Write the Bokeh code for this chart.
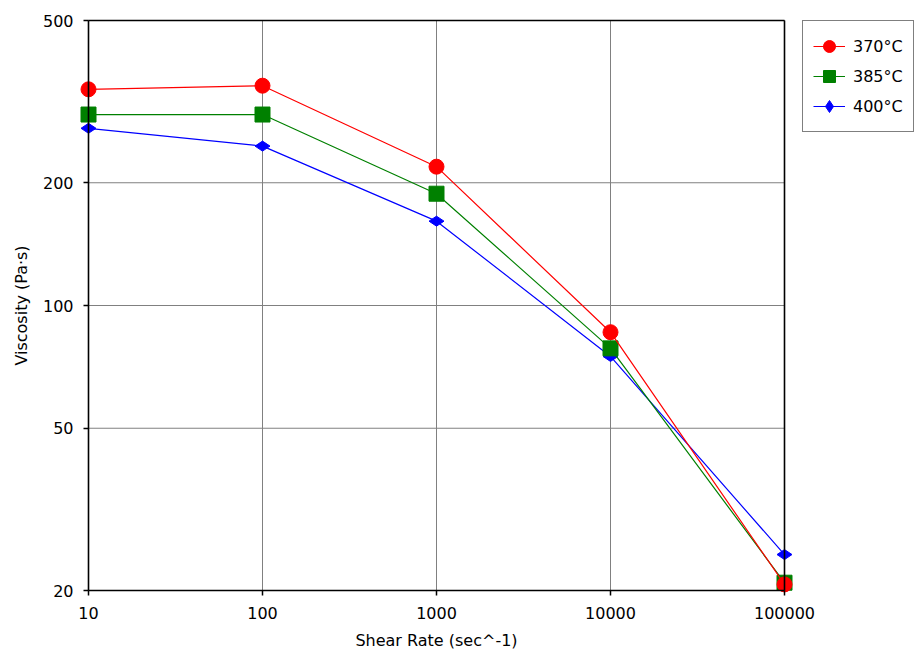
import math
from bokeh.plotting import figure
from bokeh.models import Range1d, FixedTicker, PrintfTickFormatter, Legend, LegendItem
from bokeh.embed import file_html
from bokeh.resources import INLINE

shear_rate = [10, 100, 1000, 10000, 100000]
visc_370 = [339, 346, 219, 86, 20.7]
visc_385 = [294, 294, 188, 78.5, 20.9]
visc_400 = [272, 246, 161, 75, 24.5]
series_labels = ["370°C", "385°C", "400°C"]
x_ticks = [10, 100, 1000, 10000, 100000]
y_ticks = [20, 50, 100, 200, 500]

FONT = "DejaVu Sans"
FS = "16px"

# plot box (data area) in px and padding so edge markers are not clipped
BOX_W, BOX_H, PAD = 696, 570, 9
x_lo, x_hi = x_ticks[0], x_ticks[-1]
y_lo, y_hi = y_ticks[0], y_ticks[-1]
xdec = PAD * math.log10(x_hi / x_lo) / BOX_W
ydec = PAD * math.log10(y_hi / y_lo) / BOX_H

p = figure(
    x_axis_type="log", y_axis_type="log",
    x_range=Range1d(x_lo / 10**xdec, x_hi * 10**xdec),
    y_range=Range1d(y_lo / 10**ydec, y_hi * 10**ydec),
    frame_width=BOX_W + 2 * PAD, frame_height=BOX_H + 2 * PAD,
    min_border_left=79, min_border_top=11, min_border_right=120, min_border_bottom=60,
    output_backend="svg", toolbar_location=None,
    background_fill_color="white", border_fill_color="white",
)
p.outline_line_color = None
p.xgrid.visible = False
p.ygrid.visible = False

for ax, ticks in ((p.xaxis, x_ticks), (p.yaxis, y_ticks)):
    ax.ticker = FixedTicker(ticks=ticks, minor_ticks=[])
    ax.formatter = PrintfTickFormatter(format="%d")
    ax.axis_line_color = None
    ax.major_tick_line_color = "black"
    ax.major_tick_line_width = 1.5
    ax.major_tick_in = PAD
    ax.major_tick_out = 5 - PAD
    ax.minor_tick_line_color = None
    ax.major_label_text_font = FONT
    ax.major_label_text_font_size = FS
    ax.major_label_text_color = "black"
    ax.axis_label_text_font = FONT
    ax.axis_label_text_font_size = FS
    ax.axis_label_text_font_style = "normal"
    ax.axis_label_text_color = "black"

p.xaxis.axis_label = "Shear Rate (sec^-1)"
p.yaxis.axis_label = "Viscosity (Pa·s)"
p.xaxis.major_label_standoff = 7
p.xaxis.axis_label_standoff = 9
p.yaxis.major_label_standoff = 6
p.yaxis.axis_label_standoff = 9

# grid lines inside the plot box, from the tick lists
p.segment(x0=x_ticks, y0=[y_lo] * len(x_ticks), x1=x_ticks, y1=[y_hi] * len(x_ticks),
          line_color="#808080", line_width=1)
p.segment(x0=[x_lo] * len(y_ticks), y0=y_ticks, x1=[x_hi] * len(y_ticks), y1=y_ticks,
          line_color="#808080", line_width=1)

series = [
    (visc_370, "#ff0000", "circle", 15, 0, series_labels[0]),
    (visc_385, "#008000", "square", 15, 0, series_labels[1]),
    (visc_400, "#0000ff", "diamond", 15, math.pi / 2, series_labels[2]),
]
items = {}
# draw last series first so that the 370 °C series lies on top, as in the reference
for vals, col, mk, sz, ang, lab in reversed(series):
    r1 = p.line(shear_rate, vals, line_color=col, line_width=1.2)
    r2 = p.scatter(shear_rate, vals, marker=mk, size=sz, angle=ang, fill_color=col, line_color=col)
    items[lab] = LegendItem(label=lab, renderers=[r1, r2])

# black frame of the plot box, drawn over the markers as in the reference
p.segment(x0=[x_lo, x_hi, x_lo, x_lo], y0=[y_lo, y_lo, y_lo, y_hi],
          x1=[x_lo, x_hi, x_hi, x_hi], y1=[y_hi, y_hi, y_lo, y_hi],
          line_color="black", line_width=1.6)

legend = Legend(items=[items[l] for l in series_labels], location="top_left")
legend.border_line_color = "black"
legend.border_line_width = 1.5
legend.label_text_font = FONT
legend.label_text_font_size = FS
legend.label_text_color = "black"
legend.glyph_width = 32
legend.glyph_height = 30
legend.label_height = 20
legend.spacing = -3
legend.padding = 10
legend.label_standoff = 8
legend.margin = 9
legend.background_fill_alpha = 1
p.add_layout(legend, "right")

open("out.html", "w").write(file_html(p, INLINE))
